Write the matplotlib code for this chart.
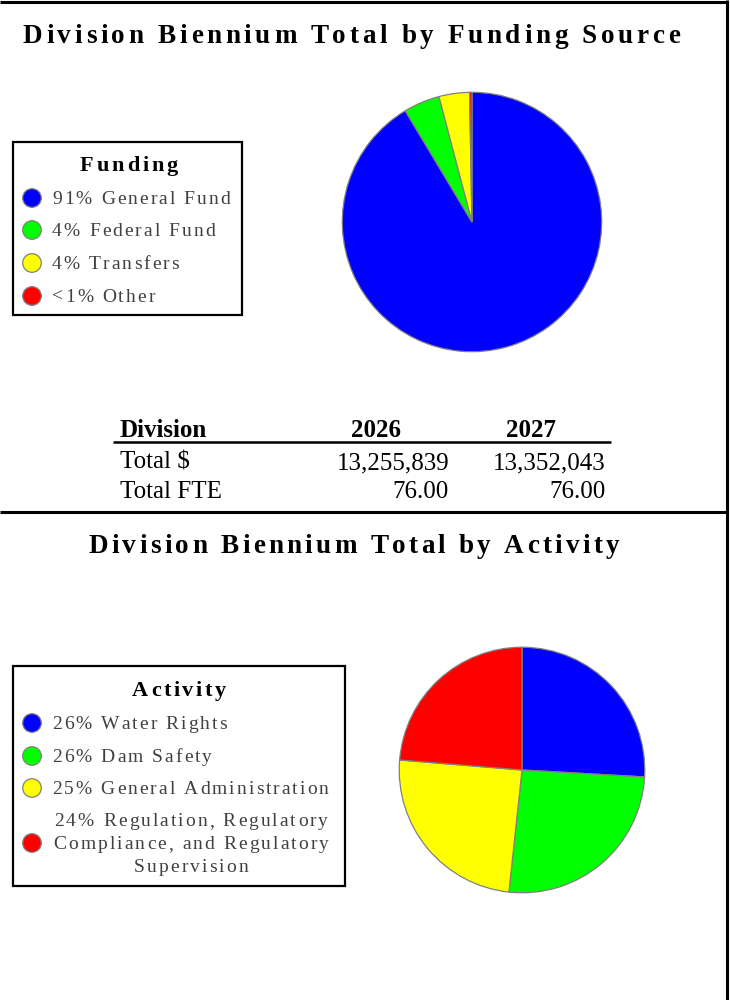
import textwrap
import matplotlib
matplotlib.use("Agg")
import matplotlib.pyplot as plt
from matplotlib.patches import Rectangle, Circle
from matplotlib.font_manager import FontProperties

# ---------------- data ----------------
funding_names = ["General Fund", "Federal Fund", "Transfers", "Other"]
funding_pct = ["91%", "4%", "4%", "<1%"]
funding_values = [91.4, 4.5, 3.8, 0.3]

activity_names = ["Water Rights", "Dam Safety", "General Administration",
                  "Regulation, Regulatory Compliance, and Regulatory Supervision"]
activity_pct = ["26%", "26%", "25%", "24%"]
activity_values = [25.9, 25.8, 24.6, 23.7]

slice_colors = ["#0000FF", "#00FF00", "#FFFF00", "#FF0000"]

table_header = ["Division", "2026", "2027"]
table_rows = ["Total $", "Total FTE"]
table_2026 = ["13,255,839", "76.00"]
table_2027 = ["13,352,043", "76.00"]

title_top = "Division Biennium Total by Funding Source"
title_bottom = "Division Biennium Total by Activity"
legend_title_top = "Funding"
legend_title_bottom = "Activity"

# ---------------- figure ----------------
W, H = 730, 1000
fig = plt.figure(figsize=(W / 100, H / 100), dpi=100)
ov = fig.add_axes([0, 0, 1, 1])
ov.set_xlim(0, W)
ov.set_ylim(H, 0)
ov.axis("off")
ov.patch.set_alpha(0)

SERIF = "Liberation Serif"
renderer = fig.canvas.get_renderer()


def char_adv(c, fp):
    w2, _, _ = renderer.get_text_width_height_descent("xx", fp, ismath=False)
    w3, _, _ = renderer.get_text_width_height_descent("x" + c + "x", fp, ismath=False)
    return w3 - w2


def spaced(x, y, s, size, weight="normal", color="black", track=0.0, ha="left"):
    fp = FontProperties(family=SERIF, weight=weight, size=size)
    advs = [char_adv(c, fp) for c in s]
    total = sum(advs) + track * (len(s) - 1)
    if ha == "center":
        x0 = x - total / 2
    elif ha == "right":
        x0 = x - total
    else:
        x0 = x
    cx = x0
    for c, a in zip(s, advs):
        if c != " ":
            ov.text(cx, y, c, fontproperties=fp, color=color, ha="left", va="baseline")
        cx += a + track
    return total


# borders
bc = "black"
ov.plot([0, 727], [1.5, 1.5], color=bc, lw=2.2, solid_capstyle="butt")
ov.plot([727, 727], [0, H], color=bc, lw=2.2, solid_capstyle="butt")
ov.plot([0, 727], [512, 512], color=bc, lw=2.2, solid_capstyle="butt")

# titles
spaced(351.5, 43, title_top, 19.5, weight="bold", track=3.7, ha="center")
spaced(354, 553, title_bottom, 19.5, weight="bold", track=3.35, ha="center")

legend_color = "#404040"
LEG_SIZE = 14
LEG_TRACK = 2.05

# ---- funding legend ----
ov.add_patch(Rectangle((13, 142), 229, 173, fill=False, ec="black", lw=1.6))
spaced(129, 171, legend_title_top, 16, weight="bold", track=2.9, ha="center")
row_y = [198, 230, 263, 296]
for i, (p, n) in enumerate(zip(funding_pct, funding_names)):
    ov.add_patch(Circle((32, row_y[i]), 9.3, fc=slice_colors[i], ec="#808080", lw=0.9))
    spaced(52, row_y[i] + 6, p + " " + n, LEG_SIZE, color=legend_color, track=LEG_TRACK)

# ---- activity legend ----
ov.add_patch(Rectangle((13, 666), 332, 220, fill=False, ec="black", lw=1.6))
spaced(179, 696, legend_title_bottom, 16, weight="bold", track=2.6, ha="center")
act_y = [723, 756, 788, 843]
for i, (p, n) in enumerate(zip(activity_pct, activity_names)):
    ov.add_patch(Circle((32, act_y[i]), 9.3, fc=slice_colors[i], ec="#808080", lw=0.9))
    lines = textwrap.wrap(p + " " + n, 26)
    if len(lines) == 1:
        spaced(52, act_y[i] + 6, lines[0], LEG_SIZE, color=legend_color, track=LEG_TRACK)
    else:
        n_l = len(lines)
        lh = 22.5
        for j, ln in enumerate(lines):
            yy = act_y[i] + 6 + (j - (n_l - 1) / 2) * lh
            spaced(191, yy, ln, LEG_SIZE, color=legend_color, track=LEG_TRACK, ha="center")

# ---- table ----
tfp_b = FontProperties(family=SERIF, weight="bold", size=18)
tfp = FontProperties(family=SERIF, size=18)
ov.text(120, 437, table_header[0], fontproperties=tfp_b, ha="left", va="baseline")
ov.text(376, 437, table_header[1], fontproperties=tfp_b, ha="center", va="baseline")
ov.text(531, 437, table_header[2], fontproperties=tfp_b, ha="center", va="baseline")
ov.plot([113, 611], [441.5, 441.5], color="black", lw=1.8, solid_capstyle="butt")
row_base = [469, 498]
for i, r in enumerate(table_rows):
    ov.text(120, row_base[i], r, fontproperties=tfp, ha="left", va="baseline")
    ov.text(449, row_base[i], table_2026[i], fontproperties=tfp, ha="right", va="baseline")
    ov.text(606, row_base[i], table_2027[i], fontproperties=tfp, ha="right", va="baseline")


# ---- pies ----
def pie_at(cx, cy, r, values):
    ax = fig.add_axes([(cx - r) / W, 1 - (cy + r) / H, 2 * r / W, 2 * r / H])
    ax.pie(values, colors=slice_colors, startangle=90, counterclock=False,
           wedgeprops=dict(edgecolor="#808080", linewidth=0.9))
    ax.set_xlim(-1.01, 1.01)
    ax.set_ylim(-1.01, 1.01)
    ax.axis("off")


pie_at(472, 222, 131, funding_values)
pie_at(522, 770, 124, activity_values)

fig.savefig("out.png", dpi=100)
